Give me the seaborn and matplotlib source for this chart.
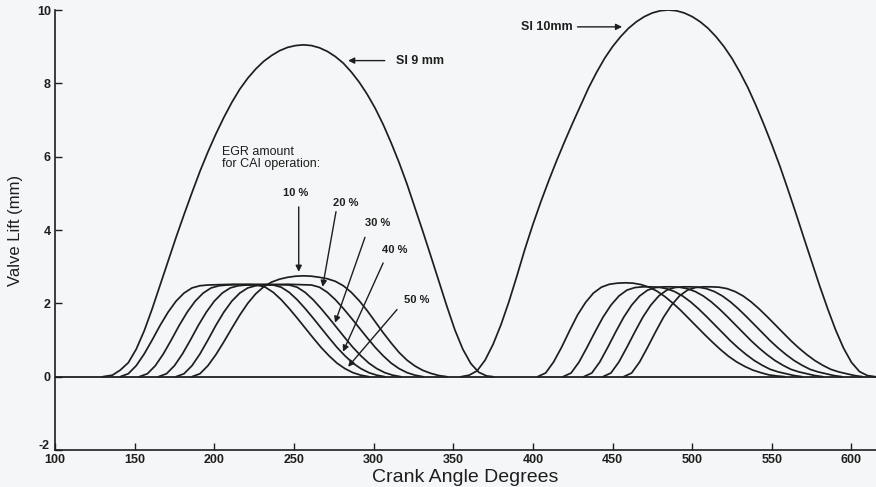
import matplotlib
matplotlib.use("Agg")
import matplotlib.pyplot as plt
import matplotlib.transforms as mtransforms
import seaborn as sns
import pandas as pd

# ---------------- data ----------------
si9_x = [130, 136] + list(range(141, 372, 5)) + [375]
si9_y = [0, 0.04,
         0.18, 0.38, 0.75, 1.25, 1.85, 2.5, 3.15, 3.8, 4.42, 5.02,
         5.6, 6.13, 6.62, 7.07, 7.48, 7.84, 8.14, 8.39, 8.6, 8.76,
         8.89, 8.98, 9.03, 9.05, 9.03, 8.97, 8.87, 8.73, 8.55, 8.31,
         8.03, 7.7, 7.32, 6.88, 6.38, 5.84, 5.25, 4.6, 3.95, 3.28,
         2.6, 1.92, 1.28, 0.75, 0.36, 0.12, 0.02,
         0]

si10_x = list(range(355, 616, 5))
si10_y = [0, 0.04, 0.16, 0.45, 0.88, 1.42, 2.05, 2.75, 3.48, 4.15,
          4.77, 5.35, 5.9, 6.42, 6.92, 7.4, 7.88, 8.3, 8.68, 9.0,
          9.27, 9.5, 9.68, 9.82, 9.92, 9.98, 10.0,
          9.98, 9.92, 9.82, 9.68, 9.5, 9.27, 9.0, 8.68, 8.3, 7.88,
          7.4, 6.88, 6.33, 5.75, 5.12, 4.47, 3.8, 3.14, 2.48, 1.86,
          1.28, 0.78, 0.39, 0.14, 0.03, 0]

egr_labels = ["10 %", "20 %", "30 %", "40 %", "50 %"]

# first group of low-lift profiles (EGR 50 % ... 10 %)
g1_50_x = list(range(141, 197, 5)) + [212] + list(range(227, 298, 5))
g1_50_y = [0, 0.08, 0.3, 0.62, 1.0, 1.4, 1.76, 2.06, 2.28, 2.42, 2.48, 2.5, 2.52,
           2.5, 2.44, 2.3, 2.1, 1.86, 1.6, 1.33, 1.06, 0.8, 0.57, 0.37, 0.22, 0.11, 0.04, 0]
g1_40_x = list(range(153, 209, 5)) + [222] + list(range(237, 308, 5))
g1_40_y = [0, 0.08, 0.3, 0.62, 1.0, 1.4, 1.76, 2.06, 2.28, 2.42, 2.48, 2.5, 2.52,
           2.5, 2.44, 2.3, 2.1, 1.86, 1.6, 1.33, 1.06, 0.8, 0.57, 0.37, 0.22, 0.11, 0.04, 0]
g1_30_x = list(range(165, 221, 5)) + [233] + list(range(247, 318, 5))
g1_30_y = [0, 0.08, 0.3, 0.62, 1.0, 1.4, 1.76, 2.06, 2.28, 2.42, 2.48, 2.5, 2.52,
           2.5, 2.44, 2.3, 2.1, 1.86, 1.6, 1.33, 1.06, 0.8, 0.57, 0.37, 0.22, 0.11, 0.04, 0]
g1_20_x = list(range(176, 232, 5)) + [246] + list(range(261, 332, 5))
g1_20_y = [0, 0.08, 0.3, 0.62, 1.0, 1.4, 1.76, 2.06, 2.28, 2.42, 2.48, 2.5, 2.52,
           2.5, 2.44, 2.3, 2.1, 1.86, 1.6, 1.33, 1.06, 0.8, 0.57, 0.37, 0.22, 0.11, 0.04, 0]
g1_10_x = list(range(186, 347, 5))
g1_10_y = [0, 0.08, 0.3, 0.6, 0.95, 1.32, 1.68, 2.0, 2.26, 2.45,
           2.58, 2.66, 2.71, 2.74, 2.75, 2.74, 2.71, 2.67, 2.6, 2.48,
           2.3, 2.07, 1.8, 1.5, 1.2, 0.92, 0.66, 0.45, 0.29, 0.17,
           0.09, 0.03, 0]

# second group of low-lift profiles
g2_a_x = list(range(403, 559, 5))
g2_a_y = [0, 0.1, 0.4, 0.8, 1.25, 1.68, 2.02, 2.28, 2.44, 2.52,
          2.55, 2.56, 2.55, 2.51, 2.44, 2.33, 2.18, 2.0, 1.8, 1.58,
          1.36, 1.14, 0.93, 0.73, 0.55, 0.4, 0.28, 0.18, 0.11, 0.05, 0.02, 0]
g2_b_x = list(range(419, 570, 5))
g2_b_y = [0, 0.1, 0.4, 0.8, 1.22, 1.62, 1.95, 2.2, 2.36, 2.43,
          2.45, 2.45, 2.44, 2.4, 2.32, 2.2, 2.04, 1.85, 1.64, 1.42,
          1.2, 0.98, 0.78, 0.6, 0.44, 0.31, 0.2, 0.13, 0.08, 0.03, 0]
g2_c_x = list(range(432, 583, 5))
g2_c_y = [0, 0.1, 0.4, 0.8, 1.22, 1.62, 1.95, 2.2, 2.36, 2.43,
          2.45, 2.45, 2.44, 2.4, 2.32, 2.2, 2.04, 1.85, 1.64, 1.42,
          1.2, 0.98, 0.78, 0.6, 0.44, 0.31, 0.2, 0.13, 0.08, 0.03, 0]
g2_d_x = list(range(444, 595, 5))
g2_d_y = [0, 0.1, 0.4, 0.8, 1.22, 1.62, 1.95, 2.2, 2.36, 2.43,
          2.45, 2.45, 2.44, 2.4, 2.32, 2.2, 2.04, 1.85, 1.64, 1.42,
          1.2, 0.98, 0.78, 0.6, 0.44, 0.31, 0.2, 0.13, 0.08, 0.03, 0]
g2_e_x = list(range(457, 608, 5))
g2_e_y = [0, 0.1, 0.4, 0.8, 1.22, 1.62, 1.95, 2.2, 2.36, 2.43,
          2.45, 2.45, 2.44, 2.4, 2.32, 2.2, 2.04, 1.85, 1.64, 1.42,
          1.2, 0.98, 0.78, 0.6, 0.44, 0.31, 0.2, 0.13, 0.08, 0.03, 0]

x_ticks = [100, 150, 200, 250, 300, 350, 400, 450, 500, 550, 600]
y_ticks = [-2, 0, 2, 4, 6, 8, 10]

# ---------------- build long table ----------------
curves = {
    "SI 9 mm": (si9_x, si9_y),
    "SI 10mm": (si10_x, si10_y),
    "g1 50": (g1_50_x, g1_50_y),
    "g1 40": (g1_40_x, g1_40_y),
    "g1 30": (g1_30_x, g1_30_y),
    "g1 20": (g1_20_x, g1_20_y),
    "g1 10": (g1_10_x, g1_10_y),
    "g2 a": (g2_a_x, g2_a_y),
    "g2 b": (g2_b_x, g2_b_y),
    "g2 c": (g2_c_x, g2_c_y),
    "g2 d": (g2_d_x, g2_d_y),
    "g2 e": (g2_e_x, g2_e_y),
}
rows = []
for name, (xs, ys) in curves.items():
    assert len(xs) == len(ys), (name, len(xs), len(ys))
    for xv, yv in zip(xs, ys):
        rows.append({"curve": name, "crank": xv, "lift": yv})
df = pd.DataFrame(rows)

# ---------------- style ----------------
sns.set_style("ticks")
plt.rcParams["font.family"] = ["Liberation Sans", "DejaVu Sans"]
plt.rcParams["axes.unicode_minus"] = False
bg = "#f5f6f7"
ink = "#1e1e1e"

fig = plt.figure(figsize=(8.76, 4.87), dpi=100, facecolor=bg)
ax = fig.add_axes([55 / 876, 37 / 487, 1 - 55 / 876, 440 / 487])
ax.set_facecolor(bg)

ax.axhline(0, color=ink, lw=1.3, zorder=1)
sns.lineplot(data=df, x="crank", y="lift", units="curve", estimator=None,
             sort=False, color=ink, lw=1.25, ax=ax, legend=False)

ax.set_xlim(100, 615.4)
ax.set_ylim(-2, 10)
ax.set_xticks(x_ticks)
ax.set_yticks(y_ticks)
ax.tick_params(direction="in", length=5, width=1, colors=ink, labelsize=9, pad=3)
for lab in ax.get_xticklabels() + ax.get_yticklabels():
    lab.set_fontweight("bold")
for s in ["top", "right"]:
    ax.spines[s].set_visible(False)
for s in ["left", "bottom"]:
    ax.spines[s].set_color(ink)
    ax.spines[s].set_linewidth(1.2)

# lift the "-2" label a little so it does not collide with "100"
t0 = ax.yaxis.get_major_ticks()[0].label1
t0.set_transform(t0.get_transform() +
                 mtransforms.ScaledTranslation(-1 / 72, 4 / 72, fig.dpi_scale_trans))

ax.set_xlabel("Crank Angle Degrees", fontsize=14, color=ink, labelpad=2)
ax.set_ylabel("Valve Lift (mm)", fontsize=12, color=ink, labelpad=10)

# ---------------- annotations ----------------
arrow = dict(arrowstyle="-|>", color=ink, lw=1.0, mutation_scale=9, shrinkA=0, shrinkB=0)
ax.annotate("", xy=(284, 8.62), xytext=(307, 8.62), arrowprops=arrow)
ax.text(314, 8.62, "SI 9 mm", fontsize=9, fontweight="bold", color=ink, va="center", ha="left")
ax.annotate("", xy=(456, 9.54), xytext=(428, 9.54), arrowprops=arrow)
ax.text(425, 9.54, "SI 10mm", fontsize=9, fontweight="bold", color=ink, va="center", ha="right")

ax.text(205, 6.3, "EGR amount\nfor CAI operation:", fontsize=9, color=ink,
        va="top", ha="left", linespacing=1.05)

label_pos = [(251, 5.0), (282.7, 4.74), (302.8, 4.2), (313.4, 3.46), (327, 2.1)]
arrow_tail = [(253, 4.63), (276.4, 4.5), (294.6, 3.8), (306, 3.1), (314.7, 1.83)]
arrow_tip = [(253, 2.86), (268, 2.45), (275.8, 1.47), (280.8, 0.68), (284, 0.27)]
for lab, lp, tl, tp in zip(egr_labels, label_pos, arrow_tail, arrow_tip):
    ax.text(lp[0], lp[1], lab, fontsize=8, fontweight="bold", color=ink, ha="center", va="center")
    ax.annotate("", xy=tp, xytext=tl, arrowprops=arrow)

fig.savefig("out.png", dpi=100, facecolor=bg)
